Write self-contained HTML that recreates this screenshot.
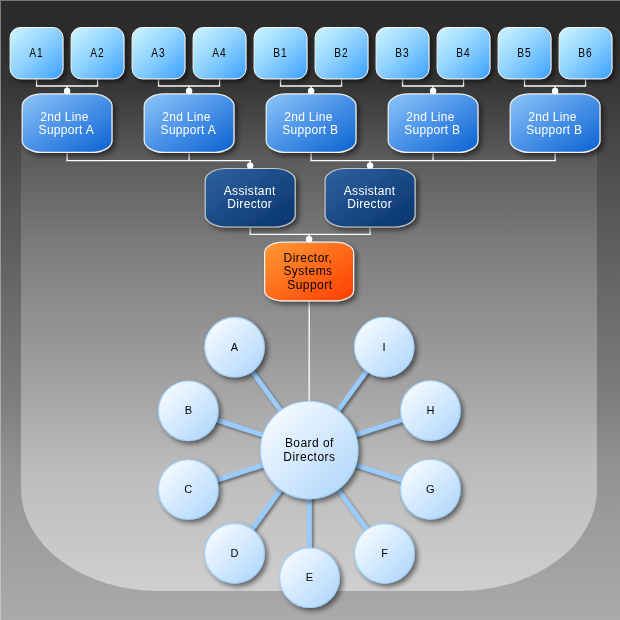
<!DOCTYPE html><html><head><meta charset="utf-8"><style>
html,body{margin:0;padding:0;width:620px;height:620px;overflow:hidden;}
body{position:relative;font-family:"Liberation Sans",sans-serif;}
.bx{position:absolute;box-sizing:border-box;display:flex;align-items:center;justify-content:center;text-align:center;font-size:12px;line-height:13px;white-space:nowrap;}
</style></head><body>
<svg width="620" height="620" style="position:absolute;left:0;top:0">
<defs>
<linearGradient id="bg" gradientUnits="userSpaceOnUse" x1="0" y1="0" x2="0" y2="620"><stop offset="0.0000" stop-color="#2b2b2b"/><stop offset="0.0484" stop-color="#2c2c2c"/><stop offset="0.1371" stop-color="#363636"/><stop offset="0.2419" stop-color="#494949"/><stop offset="0.3226" stop-color="#555555"/><stop offset="0.4032" stop-color="#5f5f5f"/><stop offset="0.4839" stop-color="#6a6a6a"/><stop offset="0.5645" stop-color="#747474"/><stop offset="0.6452" stop-color="#7e7e7e"/><stop offset="0.7581" stop-color="#939393"/><stop offset="1.0000" stop-color="#aaaaaa"/></linearGradient>
<linearGradient id="ug" gradientUnits="userSpaceOnUse" x1="0" y1="0" x2="0" y2="620"><stop offset="0.0000" stop-color="#2b2b2b"/><stop offset="0.0484" stop-color="#2c2c2c"/><stop offset="0.1371" stop-color="#363636"/><stop offset="0.2581" stop-color="#5c5c5c"/><stop offset="0.3226" stop-color="#6b6b6b"/><stop offset="0.4194" stop-color="#818181"/><stop offset="0.4839" stop-color="#8b8b8b"/><stop offset="0.6452" stop-color="#a7a7a7"/><stop offset="0.7581" stop-color="#bcbcbc"/><stop offset="0.9532" stop-color="#cfcfcf"/></linearGradient>
<linearGradient id="g1" x1="0" y1="0" x2="1" y2="1"><stop offset="0" stop-color="#cff6ff"/><stop offset="0.5" stop-color="#8cd0ff"/><stop offset="1" stop-color="#3aa0ff"/></linearGradient>
<linearGradient id="g2" x1="0" y1="0" x2="1" y2="1"><stop offset="0" stop-color="#8ec6f8"/><stop offset="0.5" stop-color="#4a92e8"/><stop offset="1" stop-color="#0a62d0"/></linearGradient>
<linearGradient id="g3" x1="0" y1="0" x2="1" y2="1"><stop offset="0" stop-color="#2f62a0"/><stop offset="1" stop-color="#06346c"/></linearGradient>
<linearGradient id="g4" x1="0" y1="0" x2="1" y2="1"><stop offset="0" stop-color="#ff9a35"/><stop offset="1" stop-color="#ff3c00"/></linearGradient>
<linearGradient id="gc" x1="0" y1="0" x2="1" y2="1"><stop offset="0" stop-color="#ffffff"/><stop offset="1" stop-color="#aad4fd"/></linearGradient>
<linearGradient id="lb" x1="0" y1="0" x2="0" y2="1"><stop offset="0" stop-color="#7a7a7a"/><stop offset="1" stop-color="#c8c8c8"/></linearGradient>
<filter id="sh" x="-20%" y="-20%" width="150%" height="150%"><feGaussianBlur in="SourceAlpha" stdDeviation="2.5"/><feOffset dx="3" dy="3"/><feComponentTransfer><feFuncA type="linear" slope="0.5"/></feComponentTransfer><feMerge><feMergeNode/><feMergeNode in="SourceGraphic"/></feMerge></filter>
<filter id="sh2" filterUnits="userSpaceOnUse" x="0" y="0" width="620" height="620"><feGaussianBlur in="SourceAlpha" stdDeviation="1.6"/><feOffset dx="2" dy="2"/><feComponentTransfer><feFuncA type="linear" slope="0.45"/></feComponentTransfer><feMerge><feMergeNode/><feMergeNode in="SourceGraphic"/></feMerge></filter>
</defs>
<rect x="0" y="0" width="620" height="620" fill="url(#bg)"/>
<path d="M21,0 L597,0 L597,489 A138,102 0 0 1 459,591 L159,591 A138,102 0 0 1 21,489 Z" fill="url(#ug)"/>
<rect x="0" y="0" width="620" height="1" fill="#7a7a7a"/>
<rect x="0" y="0" width="1" height="620" fill="url(#lb)"/>
<line x1="36.55" y1="79.3" x2="36.55" y2="86.0" stroke="#ffffff" stroke-width="1.3"/>
<line x1="97.55" y1="79.3" x2="97.55" y2="86.0" stroke="#ffffff" stroke-width="1.3"/>
<line x1="35.9" y1="86.0" x2="98.2" y2="86.0" stroke="#ffffff" stroke-width="1.3"/>
<line x1="67.1" y1="86.0" x2="67.1" y2="93.3" stroke="#ffffff" stroke-width="1.3"/>
<line x1="158.55" y1="79.3" x2="158.55" y2="86.0" stroke="#ffffff" stroke-width="1.3"/>
<line x1="219.55" y1="79.3" x2="219.55" y2="86.0" stroke="#ffffff" stroke-width="1.3"/>
<line x1="157.9" y1="86.0" x2="220.20000000000002" y2="86.0" stroke="#ffffff" stroke-width="1.3"/>
<line x1="189.1" y1="86.0" x2="189.1" y2="93.3" stroke="#ffffff" stroke-width="1.3"/>
<line x1="280.55" y1="79.3" x2="280.55" y2="86.0" stroke="#ffffff" stroke-width="1.3"/>
<line x1="341.55" y1="79.3" x2="341.55" y2="86.0" stroke="#ffffff" stroke-width="1.3"/>
<line x1="279.90000000000003" y1="86.0" x2="342.2" y2="86.0" stroke="#ffffff" stroke-width="1.3"/>
<line x1="311.1" y1="86.0" x2="311.1" y2="93.3" stroke="#ffffff" stroke-width="1.3"/>
<line x1="402.55" y1="79.3" x2="402.55" y2="86.0" stroke="#ffffff" stroke-width="1.3"/>
<line x1="463.55" y1="79.3" x2="463.55" y2="86.0" stroke="#ffffff" stroke-width="1.3"/>
<line x1="401.90000000000003" y1="86.0" x2="464.2" y2="86.0" stroke="#ffffff" stroke-width="1.3"/>
<line x1="433.1" y1="86.0" x2="433.1" y2="93.3" stroke="#ffffff" stroke-width="1.3"/>
<line x1="524.55" y1="79.3" x2="524.55" y2="86.0" stroke="#ffffff" stroke-width="1.3"/>
<line x1="585.55" y1="79.3" x2="585.55" y2="86.0" stroke="#ffffff" stroke-width="1.3"/>
<line x1="523.9" y1="86.0" x2="586.1999999999999" y2="86.0" stroke="#ffffff" stroke-width="1.3"/>
<line x1="555.1" y1="86.0" x2="555.1" y2="93.3" stroke="#ffffff" stroke-width="1.3"/>
<line x1="67.1" y1="153.0" x2="67.1" y2="160.6" stroke="#ffffff" stroke-width="1.3"/>
<line x1="189.1" y1="153.0" x2="189.1" y2="160.6" stroke="#ffffff" stroke-width="1.3"/>
<line x1="66.44999999999999" y1="160.6" x2="250.85" y2="160.6" stroke="#ffffff" stroke-width="1.3"/>
<line x1="250.2" y1="160.6" x2="250.2" y2="167.9" stroke="#ffffff" stroke-width="1.3"/>
<line x1="311.1" y1="153.0" x2="311.1" y2="160.6" stroke="#ffffff" stroke-width="1.3"/>
<line x1="433.1" y1="153.0" x2="433.1" y2="160.6" stroke="#ffffff" stroke-width="1.3"/>
<line x1="555.1" y1="153.0" x2="555.1" y2="160.6" stroke="#ffffff" stroke-width="1.3"/>
<line x1="310.45000000000005" y1="160.6" x2="555.75" y2="160.6" stroke="#ffffff" stroke-width="1.3"/>
<line x1="370.1" y1="160.6" x2="370.1" y2="167.9" stroke="#ffffff" stroke-width="1.3"/>
<line x1="250.2" y1="227.6" x2="250.2" y2="234.29999999999998" stroke="#ffffff" stroke-width="1.3"/>
<line x1="370.1" y1="227.6" x2="370.1" y2="234.29999999999998" stroke="#ffffff" stroke-width="1.3"/>
<line x1="249.54999999999998" y1="234.29999999999998" x2="370.75" y2="234.29999999999998" stroke="#ffffff" stroke-width="1.3"/>
<line x1="309.1" y1="234.29999999999998" x2="309.1" y2="241.6" stroke="#ffffff" stroke-width="1.3"/>
<line x1="309.2" y1="301.5" x2="309.2" y2="401" stroke="#ffffff" stroke-width="1.3"/>
<g filter="url(#sh2)">
<line x1="309.2" y1="450" x2="234.5" y2="347.2" stroke="#98ccff" stroke-width="4.6"/>
<line x1="309.2" y1="450" x2="384.1" y2="347.1" stroke="#98ccff" stroke-width="4.6"/>
<line x1="309.2" y1="450" x2="188.3" y2="410.8" stroke="#98ccff" stroke-width="4.6"/>
<line x1="309.2" y1="450" x2="430.4" y2="410.6" stroke="#98ccff" stroke-width="4.6"/>
<line x1="309.2" y1="450" x2="188.3" y2="489.5" stroke="#98ccff" stroke-width="4.6"/>
<line x1="309.2" y1="450" x2="430.4" y2="489.3" stroke="#98ccff" stroke-width="4.6"/>
<line x1="309.2" y1="450" x2="234.5" y2="553.4" stroke="#98ccff" stroke-width="4.6"/>
<line x1="309.2" y1="450" x2="384.5" y2="553.4" stroke="#98ccff" stroke-width="4.6"/>
<line x1="309.2" y1="450" x2="309.5" y2="577.7" stroke="#98ccff" stroke-width="4.6"/>
</g>
<g filter="url(#sh)">
<circle cx="309.2" cy="450" r="48.7" fill="url(#gc)" stroke="#a2d2ff" stroke-width="1.1"/>
<circle cx="234.5" cy="347.2" r="29.8" fill="url(#gc)" stroke="#a2d2ff" stroke-width="1.1"/>
<circle cx="384.1" cy="347.1" r="29.8" fill="url(#gc)" stroke="#a2d2ff" stroke-width="1.1"/>
<circle cx="188.3" cy="410.8" r="29.8" fill="url(#gc)" stroke="#a2d2ff" stroke-width="1.1"/>
<circle cx="430.4" cy="410.6" r="29.8" fill="url(#gc)" stroke="#a2d2ff" stroke-width="1.1"/>
<circle cx="188.3" cy="489.5" r="29.8" fill="url(#gc)" stroke="#a2d2ff" stroke-width="1.1"/>
<circle cx="430.4" cy="489.3" r="29.8" fill="url(#gc)" stroke="#a2d2ff" stroke-width="1.1"/>
<circle cx="234.5" cy="553.4" r="29.8" fill="url(#gc)" stroke="#a2d2ff" stroke-width="1.1"/>
<circle cx="384.5" cy="553.4" r="29.8" fill="url(#gc)" stroke="#a2d2ff" stroke-width="1.1"/>
<circle cx="309.5" cy="577.7" r="29.8" fill="url(#gc)" stroke="#a2d2ff" stroke-width="1.1"/>
</g>
<rect x="10.10" y="27.50" width="52.90" height="51.30" rx="10" ry="10" fill="url(#g1)" stroke="#f4f4f4" stroke-width="1.0" filter="url(#sh)"/>
<rect x="71.10" y="27.50" width="52.90" height="51.30" rx="10" ry="10" fill="url(#g1)" stroke="#f4f4f4" stroke-width="1.0" filter="url(#sh)"/>
<rect x="132.10" y="27.50" width="52.90" height="51.30" rx="10" ry="10" fill="url(#g1)" stroke="#f4f4f4" stroke-width="1.0" filter="url(#sh)"/>
<rect x="193.10" y="27.50" width="52.90" height="51.30" rx="10" ry="10" fill="url(#g1)" stroke="#f4f4f4" stroke-width="1.0" filter="url(#sh)"/>
<rect x="254.10" y="27.50" width="52.90" height="51.30" rx="10" ry="10" fill="url(#g1)" stroke="#f4f4f4" stroke-width="1.0" filter="url(#sh)"/>
<rect x="315.10" y="27.50" width="52.90" height="51.30" rx="10" ry="10" fill="url(#g1)" stroke="#f4f4f4" stroke-width="1.0" filter="url(#sh)"/>
<rect x="376.10" y="27.50" width="52.90" height="51.30" rx="10" ry="10" fill="url(#g1)" stroke="#f4f4f4" stroke-width="1.0" filter="url(#sh)"/>
<rect x="437.10" y="27.50" width="52.90" height="51.30" rx="10" ry="10" fill="url(#g1)" stroke="#f4f4f4" stroke-width="1.0" filter="url(#sh)"/>
<rect x="498.10" y="27.50" width="52.90" height="51.30" rx="10" ry="10" fill="url(#g1)" stroke="#f4f4f4" stroke-width="1.0" filter="url(#sh)"/>
<rect x="559.10" y="27.50" width="52.90" height="51.30" rx="10" ry="10" fill="url(#g1)" stroke="#f4f4f4" stroke-width="1.0" filter="url(#sh)"/>
<rect x="22.20" y="93.90" width="89.80" height="58.50" rx="20" ry="12" fill="url(#g2)" stroke="#f0f0f0" stroke-width="1.2" filter="url(#sh)"/>
<rect x="144.20" y="93.90" width="89.80" height="58.50" rx="20" ry="12" fill="url(#g2)" stroke="#f0f0f0" stroke-width="1.2" filter="url(#sh)"/>
<rect x="266.20" y="93.90" width="89.80" height="58.50" rx="20" ry="12" fill="url(#g2)" stroke="#f0f0f0" stroke-width="1.2" filter="url(#sh)"/>
<rect x="388.20" y="93.90" width="89.80" height="58.50" rx="20" ry="12" fill="url(#g2)" stroke="#f0f0f0" stroke-width="1.2" filter="url(#sh)"/>
<rect x="510.20" y="93.90" width="89.80" height="58.50" rx="20" ry="12" fill="url(#g2)" stroke="#f0f0f0" stroke-width="1.2" filter="url(#sh)"/>
<rect x="205.20" y="168.50" width="90.00" height="58.50" rx="21" ry="12" fill="url(#g3)" stroke="#c8c8c8" stroke-width="1.2" filter="url(#sh)"/>
<rect x="325.10" y="168.50" width="90.00" height="58.50" rx="21" ry="12" fill="url(#g3)" stroke="#c8c8c8" stroke-width="1.2" filter="url(#sh)"/>
<rect x="264.60" y="242.20" width="89.00" height="58.70" rx="18.5" ry="10.5" fill="url(#g4)" stroke="#f0f0f0" stroke-width="1.2" filter="url(#sh)"/>
<circle cx="67.1" cy="91.0" r="3.2" fill="#ffffff"/>
<circle cx="189.1" cy="91.0" r="3.2" fill="#ffffff"/>
<circle cx="311.1" cy="91.0" r="3.2" fill="#ffffff"/>
<circle cx="433.1" cy="91.0" r="3.2" fill="#ffffff"/>
<circle cx="555.1" cy="91.0" r="3.2" fill="#ffffff"/>
<circle cx="250.2" cy="165.6" r="3.2" fill="#ffffff"/>
<circle cx="370.1" cy="165.6" r="3.2" fill="#ffffff"/>
<circle cx="309.1" cy="239.29999999999998" r="3.2" fill="#ffffff"/>
</svg>
<div class="bx" style="left:9.00px;top:27.50px;width:53.90px;height:52.30px;color:#000;font-size:12px;line-height:13px;letter-spacing:1.0px"><div style="transform:scaleX(0.85)">A1</div></div>
<div class="bx" style="left:70.00px;top:27.50px;width:53.90px;height:52.30px;color:#000;font-size:12px;line-height:13px;letter-spacing:1.0px"><div style="transform:scaleX(0.85)">A2</div></div>
<div class="bx" style="left:131.00px;top:27.50px;width:53.90px;height:52.30px;color:#000;font-size:12px;line-height:13px;letter-spacing:1.0px"><div style="transform:scaleX(0.85)">A3</div></div>
<div class="bx" style="left:192.00px;top:27.50px;width:53.90px;height:52.30px;color:#000;font-size:12px;line-height:13px;letter-spacing:1.0px"><div style="transform:scaleX(0.85)">A4</div></div>
<div class="bx" style="left:253.00px;top:27.50px;width:53.90px;height:52.30px;color:#000;font-size:12px;line-height:13px;letter-spacing:1.0px"><div style="transform:scaleX(0.85)">B1</div></div>
<div class="bx" style="left:314.00px;top:27.50px;width:53.90px;height:52.30px;color:#000;font-size:12px;line-height:13px;letter-spacing:1.0px"><div style="transform:scaleX(0.85)">B2</div></div>
<div class="bx" style="left:375.00px;top:27.50px;width:53.90px;height:52.30px;color:#000;font-size:12px;line-height:13px;letter-spacing:1.0px"><div style="transform:scaleX(0.85)">B3</div></div>
<div class="bx" style="left:436.00px;top:27.50px;width:53.90px;height:52.30px;color:#000;font-size:12px;line-height:13px;letter-spacing:1.0px"><div style="transform:scaleX(0.85)">B4</div></div>
<div class="bx" style="left:497.00px;top:27.50px;width:53.90px;height:52.30px;color:#000;font-size:12px;line-height:13px;letter-spacing:1.0px"><div style="transform:scaleX(0.85)">B5</div></div>
<div class="bx" style="left:558.00px;top:27.50px;width:53.90px;height:52.30px;color:#000;font-size:12px;line-height:13px;letter-spacing:1.0px"><div style="transform:scaleX(0.85)">B6</div></div>
<div class="bx" style="left:19.80px;top:94.30px;width:91.00px;height:59.70px;color:#fff;font-size:12px;line-height:13px;letter-spacing:0.3px"><div style="transform:translateZ(0)"><span style="position:relative;left:-0.8px">2nd Line</span><br><span style="position:relative;left:1px">Support A</span></div></div>
<div class="bx" style="left:141.80px;top:94.30px;width:91.00px;height:59.70px;color:#fff;font-size:12px;line-height:13px;letter-spacing:0.3px"><div style="transform:translateZ(0)"><span style="position:relative;left:-0.8px">2nd Line</span><br><span style="position:relative;left:1px">Support A</span></div></div>
<div class="bx" style="left:263.80px;top:94.30px;width:91.00px;height:59.70px;color:#fff;font-size:12px;line-height:13px;letter-spacing:0.3px"><div style="transform:translateZ(0)"><span style="position:relative;left:-0.8px">2nd Line</span><br><span style="position:relative;left:1px">Support B</span></div></div>
<div class="bx" style="left:385.80px;top:94.30px;width:91.00px;height:59.70px;color:#fff;font-size:12px;line-height:13px;letter-spacing:0.3px"><div style="transform:translateZ(0)"><span style="position:relative;left:-0.8px">2nd Line</span><br><span style="position:relative;left:1px">Support B</span></div></div>
<div class="bx" style="left:507.80px;top:94.30px;width:91.00px;height:59.70px;color:#fff;font-size:12px;line-height:13px;letter-spacing:0.3px"><div style="transform:translateZ(0)"><span style="position:relative;left:-0.8px">2nd Line</span><br><span style="position:relative;left:1px">Support B</span></div></div>
<div class="bx" style="left:204.10px;top:167.90px;width:91.20px;height:59.70px;color:#fff;font-size:12px;line-height:13px;letter-spacing:0.35px"><div style="transform:translateZ(0)">Assistant<br>Director</div></div>
<div class="bx" style="left:324.00px;top:167.90px;width:91.20px;height:59.70px;color:#fff;font-size:12px;line-height:13px;letter-spacing:0.35px"><div style="transform:translateZ(0)">Assistant<br>Director</div></div>
<div class="bx" style="left:262.90px;top:242.10px;width:90.20px;height:59.90px;color:#000;font-size:12px;line-height:13.5px;letter-spacing:0.45px"><div style="transform:translateZ(0)">Director,<br>Systems<br>&nbsp;Support</div></div>
<div class="bx" style="left:260.40px;top:401.00px;width:98.00px;height:98.00px;color:#000;font-size:12px;line-height:14px;letter-spacing:0.45px"><div style="transform:translateZ(0)">Board of<br>Directors</div></div>
<div class="bx" style="left:204.50px;top:317.20px;width:60.00px;height:60.00px;color:#000;font-size:11px;line-height:13px;letter-spacing:0px"><div style="transform:translateZ(0)">A</div></div>
<div class="bx" style="left:354.10px;top:317.10px;width:60.00px;height:60.00px;color:#000;font-size:11px;line-height:13px;letter-spacing:0px"><div style="transform:translateZ(0)">I</div></div>
<div class="bx" style="left:158.30px;top:380.80px;width:60.00px;height:60.00px;color:#000;font-size:11px;line-height:13px;letter-spacing:0px"><div style="transform:translateZ(0)">B</div></div>
<div class="bx" style="left:400.40px;top:380.60px;width:60.00px;height:60.00px;color:#000;font-size:11px;line-height:13px;letter-spacing:0px"><div style="transform:translateZ(0)">H</div></div>
<div class="bx" style="left:158.30px;top:459.50px;width:60.00px;height:60.00px;color:#000;font-size:11px;line-height:13px;letter-spacing:0px"><div style="transform:translateZ(0)">C</div></div>
<div class="bx" style="left:400.40px;top:459.30px;width:60.00px;height:60.00px;color:#000;font-size:11px;line-height:13px;letter-spacing:0px"><div style="transform:translateZ(0)">G</div></div>
<div class="bx" style="left:204.50px;top:523.40px;width:60.00px;height:60.00px;color:#000;font-size:11px;line-height:13px;letter-spacing:0px"><div style="transform:translateZ(0)">D</div></div>
<div class="bx" style="left:354.50px;top:523.40px;width:60.00px;height:60.00px;color:#000;font-size:11px;line-height:13px;letter-spacing:0px"><div style="transform:translateZ(0)">F</div></div>
<div class="bx" style="left:279.50px;top:547.70px;width:60.00px;height:60.00px;color:#000;font-size:11px;line-height:13px;letter-spacing:0px"><div style="transform:translateZ(0)">E</div></div>
</body></html>
